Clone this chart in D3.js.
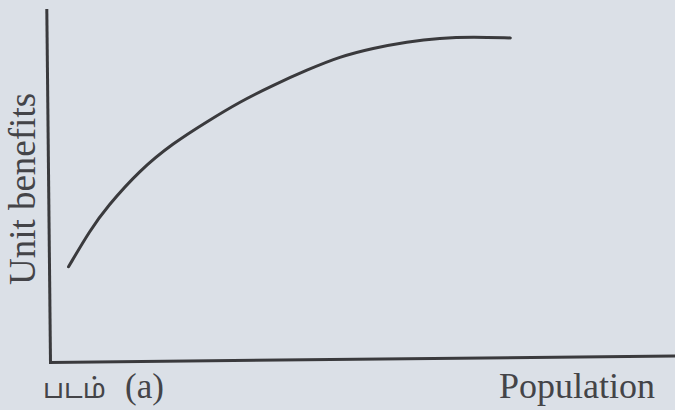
<!DOCTYPE html>
<html>
<head>
<meta charset="utf-8">
<script src="https://cdn.jsdelivr.net/npm/d3@7"></script>
<style>
  html, body { margin: 0; padding: 0; background: #dbe0e7; }
  svg { display: block; }
</style>
</head>
<body>
<div id="chart"></div>
<script>
// population (0-100 scale) and unit benefits
const population = [3.1, 6.6, 9.3, 14.6, 19.9, 25.3, 30.6, 35.9, 41.3, 46.5, 51.8, 57.2, 62.4, 67.7, 73.6]
const unitBenefits = [27.0, 37.4, 43.9, 54.3, 61.8, 67.8, 73.4, 78.0, 82.2, 85.9, 88.2, 89.9, 90.9, 91.1, 90.7]
const xTitle = 'Population'
const yTitle = 'Unit benefits'
const figLabel = 'படம்'
const figLetter = '(a)'

const width = 675
const height = 410
const ink = '#3a3a3d'
const ox = 50, oy = 362   // axis corner
const plotW = 630, plotH = 352

const svg = d3.select('#chart').append('svg')
  .attr('width', width)
  .attr('height', height)

svg.append('rect')
  .attr('width', width)
  .attr('height', height)
  .attr('fill', '#dbe0e7')

// the scan is slightly tilted
const g = svg.append('g')
  .attr('transform', 'translate(' + ox + ',' + oy + ') rotate(-0.6)')

const x = d3.scaleLinear().domain([0, 100]).range([0, plotW])
const y = d3.scaleLinear().domain([0, 100]).range([0, -plotH])

g.append('g')
  .call(d3.axisBottom(x).tickValues([]).tickSizeOuter(0))
g.append('g')
  .call(d3.axisLeft(y).tickValues([]).tickSizeOuter(0))
g.selectAll('.domain')
  .attr('stroke', ink)
  .attr('stroke-width', 3)
  .attr('stroke-linecap', 'square')

const line = d3.line()
  .x(function(d, i) { return x(population[i]) })
  .y(function(d) { return y(d) })
  .curve(d3.curveBasis)

g.append('path')
  .datum(unitBenefits)
  .attr('d', line)
  .attr('fill', 'none')
  .attr('stroke', ink)
  .attr('stroke-width', 3)
  .attr('stroke-linecap', 'round')

svg.append('text')
  .attr('x', 655)
  .attr('y', 398)
  .attr('text-anchor', 'end')
  .attr('font-family', '"Liberation Serif", serif')
  .attr('font-size', 36)
  .attr('fill', '#444448')
  .text(xTitle)

svg.append('text')
  .attr('transform', 'translate(35,189) rotate(-90)')
  .attr('text-anchor', 'middle')
  .attr('font-family', '"Liberation Serif", serif')
  .attr('font-size', 37)
  .attr('fill', '#444448')
  .text(yTitle)

svg.append('text')
  .attr('x', 43)
  .attr('y', 398)
  .attr('font-family', '"Noto Sans Tamil", "Noto Sans", sans-serif')
  .attr('font-size', 27)
  .attr('fill', '#444448')
  .text(figLabel)

svg.append('text')
  .attr('x', 125)
  .attr('y', 398)
  .attr('font-family', '"Liberation Serif", serif')
  .attr('font-size', 35)
  .attr('fill', '#444448')
  .text(figLetter)
</script>
</body>
</html>
